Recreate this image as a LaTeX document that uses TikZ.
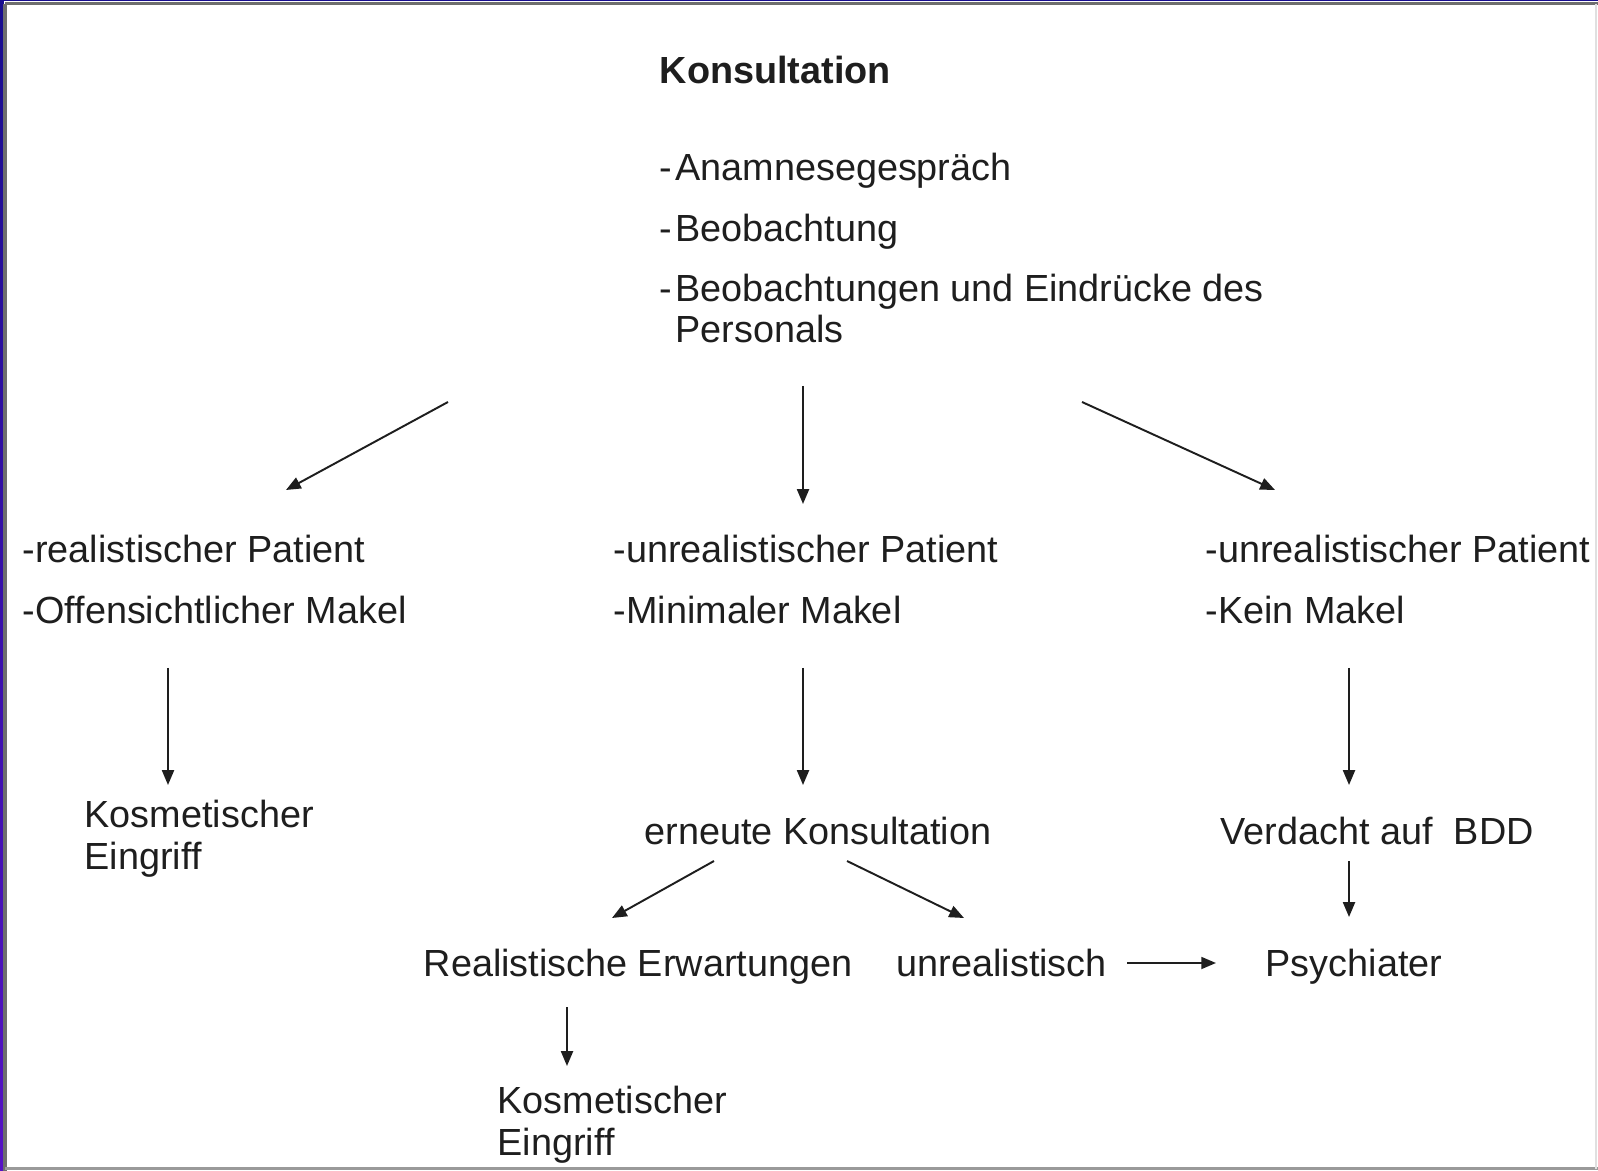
\documentclass[tikz,border=0pt]{standalone}
\usepackage{fontspec}
\setmainfont{Liberation Sans}
\usetikzlibrary{arrows.meta}
\definecolor{frameblue}{HTML}{170C8E}
\definecolor{framepurple}{HTML}{5512C4}
\definecolor{framegray}{HTML}{6E6E6E}
\definecolor{ink}{HTML}{1E1E1E}
\tikzset{
  txt/.style={inner sep=0pt, anchor=base west, align=left, text=ink,
    font=\fontsize{10.75}{11.7}\selectfont},
  arr/.style={draw=ink, line width=0.55pt, -{Triangle[length=4.2pt,width=3.4pt]}}
}
\begin{document}
\begin{tikzpicture}[x=0.01cm, y=-0.01cm]
    \useasboundingbox (0, 0) rectangle (1598, 1171);
    \fill[white] (0, 0) rectangle (1598, 1171);
    \shade[top color=frameblue, bottom color=framepurple] (0, 0) rectangle (3.5, 1171);
    \fill[frameblue] (0, 0) rectangle (1598, 1.3);
    \draw[framegray, line width=1pt] (5.2, 3.6) -- (1598, 3.6);
    \draw[framegray, line width=1pt] (5.2, 3.6) -- (5.2, 1171);
    \draw[framegray!70, line width=1pt] (5.2, 1168.5) -- (1598, 1168.5);
    \draw[black!12, line width=0.5pt] (1596, 3.6) -- (1596, 1168.5);

    \node[txt, font=\fontsize{10.75}{11.7}\selectfont\bfseries] (konsul) at (659, 84) {Konsultation};
    \node[txt] (quellen) at (659, 343) {-\hspace{0.08em}Anamnesegespräch\\[5.5pt]
      -\hspace{0.08em}Beobachtung\\[5.5pt]
      -\hspace{0.08em}Beobachtungen und Eindrücke des\\
      \phantom{-\hspace{0.08em}}Personals};

    \node[txt, font=\fontsize{10.75}{17.4}\selectfont] (real) at (22, 624) {-realistischer Patient\\-Offensichtlicher Makel};
    \node[txt, font=\fontsize{10.75}{17.4}\selectfont] (minimal) at (613, 624) {-unrealistischer Patient\\-Minimaler Makel};
    \node[txt, font=\fontsize{10.75}{17.4}\selectfont] (keinmakel) at (1205, 624) {-unrealistischer Patient\\-Kein Makel};

    \node[txt] (eingriffA) at (84, 869) {Kosmetischer\\Eingriff};
    \node[txt] (erneut) at (644, 844) {erneute Konsultation};
    \node[txt] (verdacht) at (1220, 844) {Verdacht auf\ \ BDD};

    \node[txt] (realerw) at (423, 976) {Realistische Erwartungen};
    \node[txt] (unreal) at (896, 976) {unrealistisch};
    \node[txt] (psych) at (1265, 976) {Psychiater};
    \node[txt] (eingriffB) at (497, 1155) {Kosmetischer\\Eingriff};

    \coordinate (qL) at (448, 402);
    \coordinate (qM) at (803, 386);
    \coordinate (qR) at (1082, 402);
    \coordinate (realTop) at (286, 490);
    \coordinate (minTop) at (803, 504);
    \coordinate (keinTop) at (1275, 490);
    \coordinate (realBot) at (168, 668);
    \coordinate (minBot) at (803, 668);
    \coordinate (keinBot) at (1349, 668);
    \coordinate (eingriffATop) at (168, 785);
    \coordinate (erneutTop) at (803, 785);
    \coordinate (verdachtTop) at (1349, 785);
    \coordinate (erneutL) at (714, 861);
    \coordinate (erneutR) at (847, 861);
    \coordinate (verdachtBot) at (1349, 861);
    \coordinate (realerwTop) at (612, 918);
    \coordinate (unrealTop) at (964, 918);
    \coordinate (psychTop) at (1349, 917);
    \coordinate (unrealEnd) at (1127, 963);
    \coordinate (psychLeft) at (1216, 963);
    \coordinate (realerwBot) at (567, 1007);
    \coordinate (eingriffBTop) at (567, 1066);

    \draw[arr] (qL) -- (realTop);
    \draw[arr] (qM) -- (minTop);
    \draw[arr] (qR) -- (keinTop);
    \draw[arr] (realBot) -- (eingriffATop);
    \draw[arr] (minBot) -- (erneutTop);
    \draw[arr] (keinBot) -- (verdachtTop);
    \draw[arr] (erneutL) -- (realerwTop);
    \draw[arr] (erneutR) -- (unrealTop);
    \draw[arr] (verdachtBot) -- (psychTop);
    \draw[arr] (unrealEnd) -- (psychLeft);
    \draw[arr] (realerwBot) -- (eingriffBTop);
\end{tikzpicture}
\end{document}
